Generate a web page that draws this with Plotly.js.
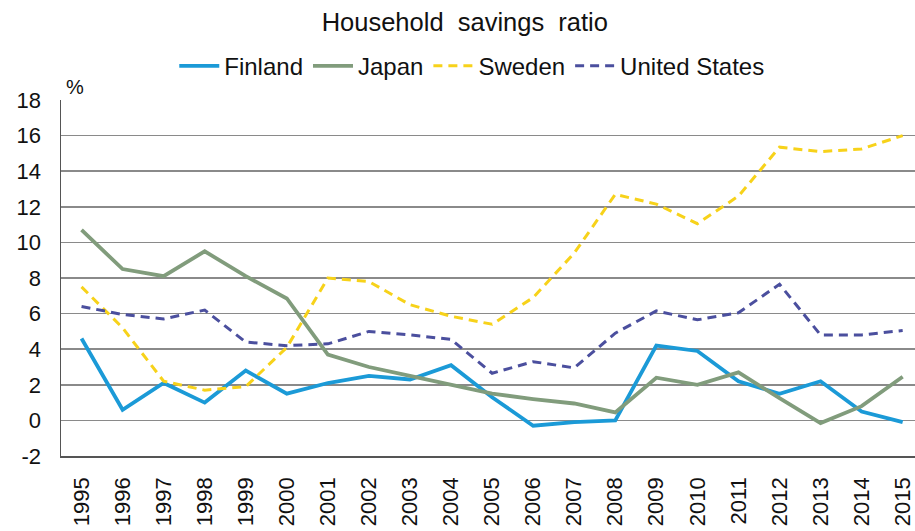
<!DOCTYPE html>
<html>
<head>
<meta charset="utf-8">
<script src="https://cdn.plot.ly/plotly-3.0.1.min.js"></script>
<style>html,body{margin:0;padding:0;background:#fff;}#chart{width:915px;height:531px;}</style>
</head>
<body>
<div id="chart"></div>
<script>
const years = ['1995','1996','1997','1998','1999','2000','2001','2002','2003','2004','2005','2006','2007','2008','2009','2010','2011','2012','2013','2014','2015'];
const finland = [4.6,0.6,2.1,1.0,2.8,1.5,2.1,2.5,2.3,3.1,1.3,-0.3,-0.1,0.0,4.2,3.9,2.2,1.5,2.2,0.5,-0.1];
const japan = [10.7,8.5,8.1,9.5,8.1,6.85,3.7,3.0,2.5,2.0,1.5,1.2,0.95,0.45,2.4,2.0,2.7,1.25,-0.15,0.8,2.45];
const sweden = [7.5,5.2,2.2,1.7,1.9,4.1,8.0,7.8,6.5,5.85,5.4,6.9,9.4,12.7,12.15,11.05,12.6,15.35,15.1,15.25,16.0];
const us = [6.4,5.95,5.7,6.2,4.4,4.2,4.3,5.0,4.8,4.55,2.65,3.3,2.95,4.9,6.15,5.65,6.05,7.65,4.8,4.8,5.05];
const yTicks = [-2,0,2,4,6,8,10,12,14,16,18];

const traces = [
  {name:'Finland', y:finland, line:{color:'#1b9ad7', width:3.8}},
  {name:'Japan', y:japan, line:{color:'#819c7c', width:3.8}},
  {name:'Sweden', y:sweden, line:{color:'#f7d21a', width:3, dash:'9px,6px'}},
  {name:'United States', y:us, line:{color:'#4b4f9e', width:3, dash:'9px,6px'}}
].map(t => Object.assign({x:years, type:'scatter', mode:'lines', hoverinfo:'skip'}, t));

const layout = {
  width:915, height:531,
  margin:{l:61, r:0, t:100, b:75},
  paper_bgcolor:'#fff', plot_bgcolor:'#fff',
  font:{family:'Liberation Sans, Arial, sans-serif', color:'#111'},
  title:{text:'Household  savings  ratio', x:0.508, xref:'container', xanchor:'center', yanchor:'middle', yref:'container', font:{size:25.5, color:'#111'}},
  showlegend:true,
  legend:{orientation:'h', x:0.481, xanchor:'center', y:1.095, yanchor:'middle', font:{size:24, color:'#111'}, itemwidth:40, tracegroupgap:0, bgcolor:'rgba(0,0,0,0)'},
  xaxis:{type:'category', range:[-0.5,20.3], tickangle:-90, tickfont:{size:22, color:'#111'}, showgrid:false, showline:true, linecolor:'#555', linewidth:1.5, ticks:'', ticklabelstandoff:11, fixedrange:true},
  yaxis:{range:[-2,18], tickvals:yTicks, ticktext:yTicks.map(String), tickfont:{size:22, color:'#111'}, showgrid:true, gridcolor:'#8a8a8a', gridwidth:1.6, zeroline:false, showline:true, mirror:true, linecolor:'#555', linewidth:1.5, ticks:'', ticklabelstandoff:14, fixedrange:true},
  annotations:[{text:'%', xref:'paper', yref:'paper', x:0.004, y:1.0, xanchor:'left', yanchor:'bottom', showarrow:false, font:{size:20, color:'#111'}}]
};
layout.title.y = 1 - 22/531;
Plotly.newPlot('chart', traces, layout, {staticPlot:true, displayModeBar:false});
</script>
</body>
</html>
